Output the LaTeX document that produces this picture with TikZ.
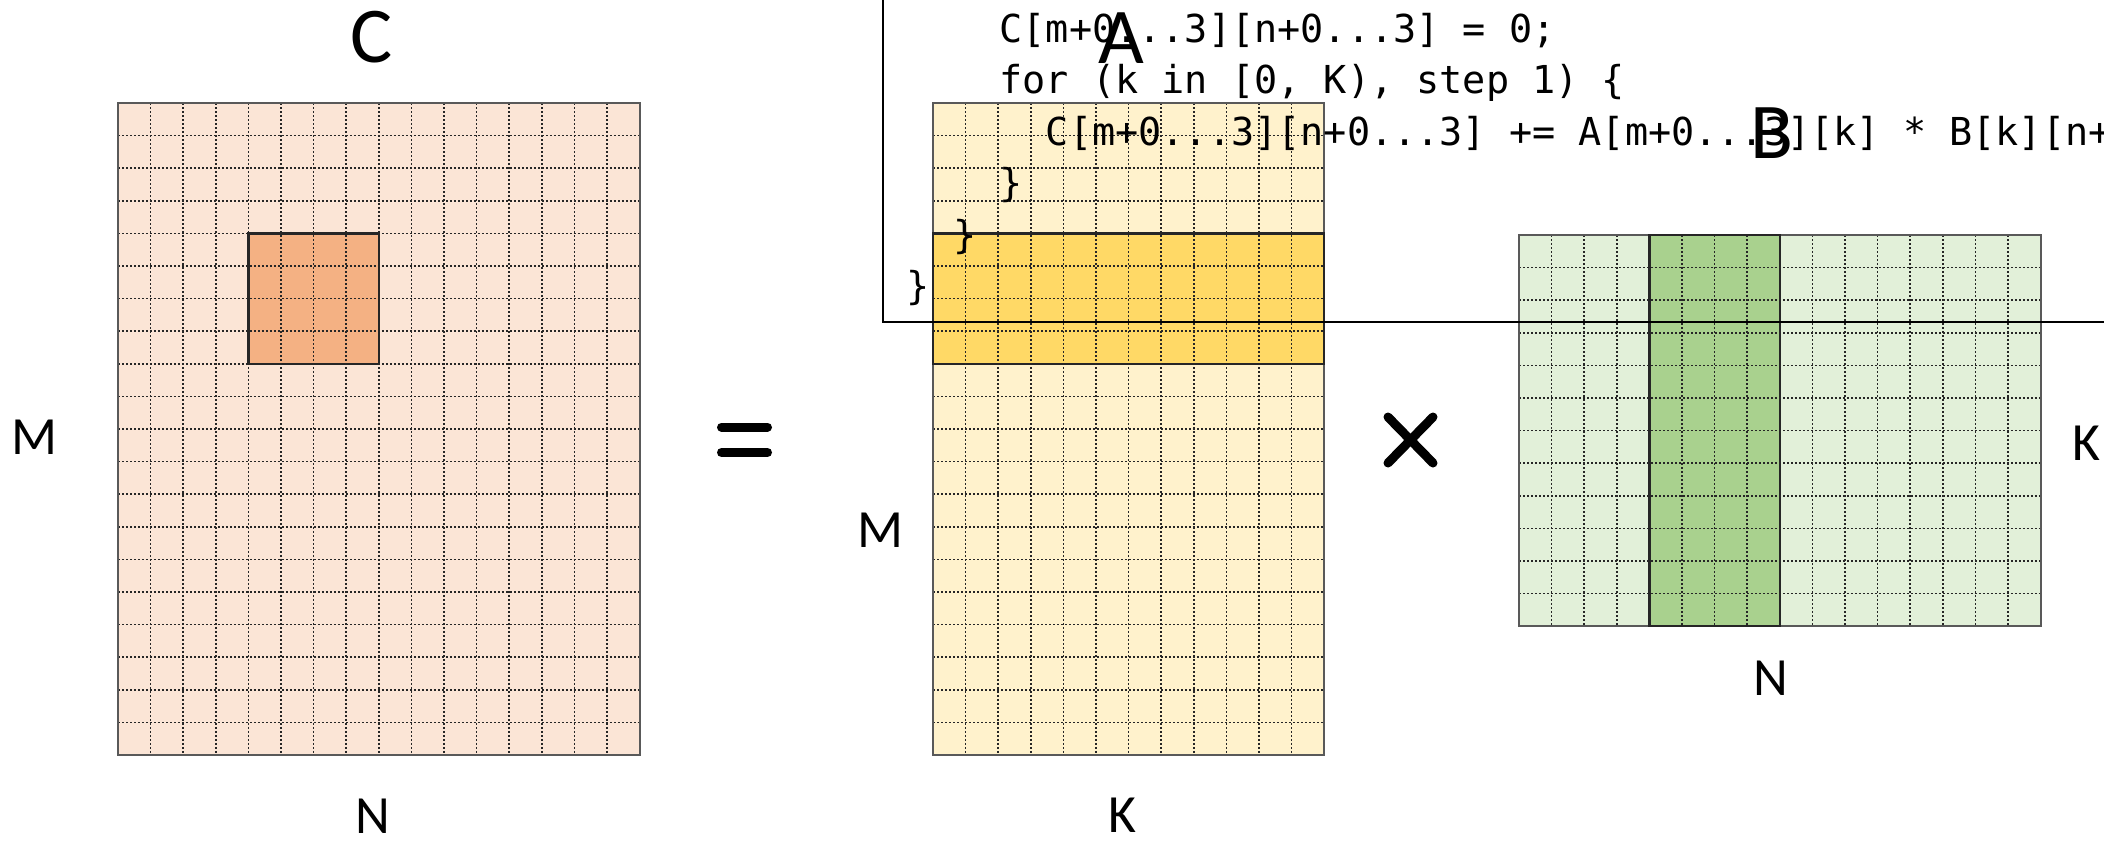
\documentclass[tikz,border=0pt]{standalone}
\usepackage{fontspec}
\setmainfont{Carlito}
\setmonofont{DejaVu Sans Mono}
\definecolor{cfill}{HTML}{FBE5D6}
\definecolor{chigh}{HTML}{F4B183}
\definecolor{afill}{HTML}{FFF2CC}
\definecolor{ahigh}{HTML}{FFD966}
\definecolor{bfill}{HTML}{E2F0D9}
\definecolor{bhigh}{HTML}{A9D18E}
\newcommand{\cellw}{32.6}
\tikzset{
  gridline/.style={black!85, line width=0.15mm, dash pattern=on 0.22mm off 0.18mm},
  matframe/.style={black!65, line width=0.2mm},
  hiframe/.style={black!85, line width=0.25mm},
  mattitle/.style={inner sep=0pt, font=\fontsize{22.5}{27}\selectfont},
  dimlabel/.style={inner sep=0pt, font=\fontsize{15.3}{18}\selectfont},
  codeline/.style={anchor=base west, inner sep=0pt, font=\ttfamily\fontsize{10.95}{13}\selectfont},
  opsign/.style={line width=0.9mm, line cap=round}
}
\begin{document}
\begin{tikzpicture}[x=0.1mm, y=-0.1mm]
    \useasboundingbox (0,0) rectangle (2104,841);
    % matrix C (16 x 20)
    \fill[cfill] (118,103) rectangle ++(16*\cellw,20*\cellw);
    \fill[chigh] (118+4*\cellw,103+4*\cellw) rectangle ++(4*\cellw,4*\cellw);
    \foreach \i in {1,...,15}
      \draw[gridline] (118+\i*\cellw,103) -- ++(0,20*\cellw);
    \foreach \j in {1,...,19}
      \draw[gridline] (118,103+\j*\cellw) -- ++(16*\cellw,0);
    \draw[matframe] (118,103) rectangle ++(16*\cellw,20*\cellw);
    \draw[hiframe] (118+4*\cellw,103+4*\cellw) rectangle ++(4*\cellw,4*\cellw);
    % matrix A (12 x 20)
    \fill[afill] (933,103) rectangle ++(12*\cellw,20*\cellw);
    \fill[ahigh] (933,103+4*\cellw) rectangle ++(12*\cellw,4*\cellw);
    \foreach \i in {1,...,11}
      \draw[gridline] (933+\i*\cellw,103) -- ++(0,20*\cellw);
    \foreach \j in {1,...,19}
      \draw[gridline] (933,103+\j*\cellw) -- ++(12*\cellw,0);
    \draw[matframe] (933,103) rectangle ++(12*\cellw,20*\cellw);
    \draw[hiframe] (933,103+4*\cellw) rectangle ++(12*\cellw,4*\cellw);
    % matrix B (16 x 12)
    \fill[bfill] (1519,235) rectangle ++(16*\cellw,12*\cellw);
    \fill[bhigh] (1519+4*\cellw,235) rectangle ++(4*\cellw,12*\cellw);
    \foreach \i in {1,...,15}
      \draw[gridline] (1519+\i*\cellw,235) -- ++(0,12*\cellw);
    \foreach \j in {1,...,11}
      \draw[gridline] (1519,235+\j*\cellw) -- ++(16*\cellw,0);
    \draw[matframe] (1519,235) rectangle ++(16*\cellw,12*\cellw);
    \draw[hiframe] (1519+4*\cellw,235) rectangle ++(4*\cellw,12*\cellw);
    % code box
    \draw[line width=0.2mm] (883,-5) -- (883,322) -- (2110,322);
    \node[codeline] (code1) at (906+4*23.2,42) {C[m+0...3][n+0...3] = 0;};
    \node[codeline] (code2) at (906+4*23.2,93.5) {for (k in [0, K), step 1) \{};
    \node[codeline] (code3) at (906+6*23.2,145) {C[m+0...3][n+0...3] += A[m+0...3][k] * B[k][n+};
    \node[codeline] (code4) at (906+4*23.2,196.5) {\}};
    \node[codeline] (code5) at (906+2*23.2,248) {\}};
    \node[codeline] (code6) at (906,299.5) {\}};
    % titles and sizes
    \node[mattitle] (ctitle) at (372,37) {C};
    \node[mattitle] (atitle) at (1121,38) {A};
    \node[mattitle] (btitle) at (1772,133) {B};
    \node[dimlabel] (cm) at (34,437) {M};
    \node[dimlabel] (cn) at (373,816) {N};
    \node[dimlabel] (am) at (880,530) {M};
    \node[dimlabel] (ak) at (1122,815) {K};
    \node[dimlabel] (bn) at (1771,678) {N};
    \node[dimlabel] (bk) at (2086,443) {K};
    % operators
    \draw[opsign] (721.5,427) -- (767.5,427);
    \draw[opsign] (721.5,452.5) -- (767.5,452.5);
    \draw[opsign] (1388,417) -- (1433,463);
    \draw[opsign] (1433,417) -- (1388,463);
\end{tikzpicture}
\end{document}
